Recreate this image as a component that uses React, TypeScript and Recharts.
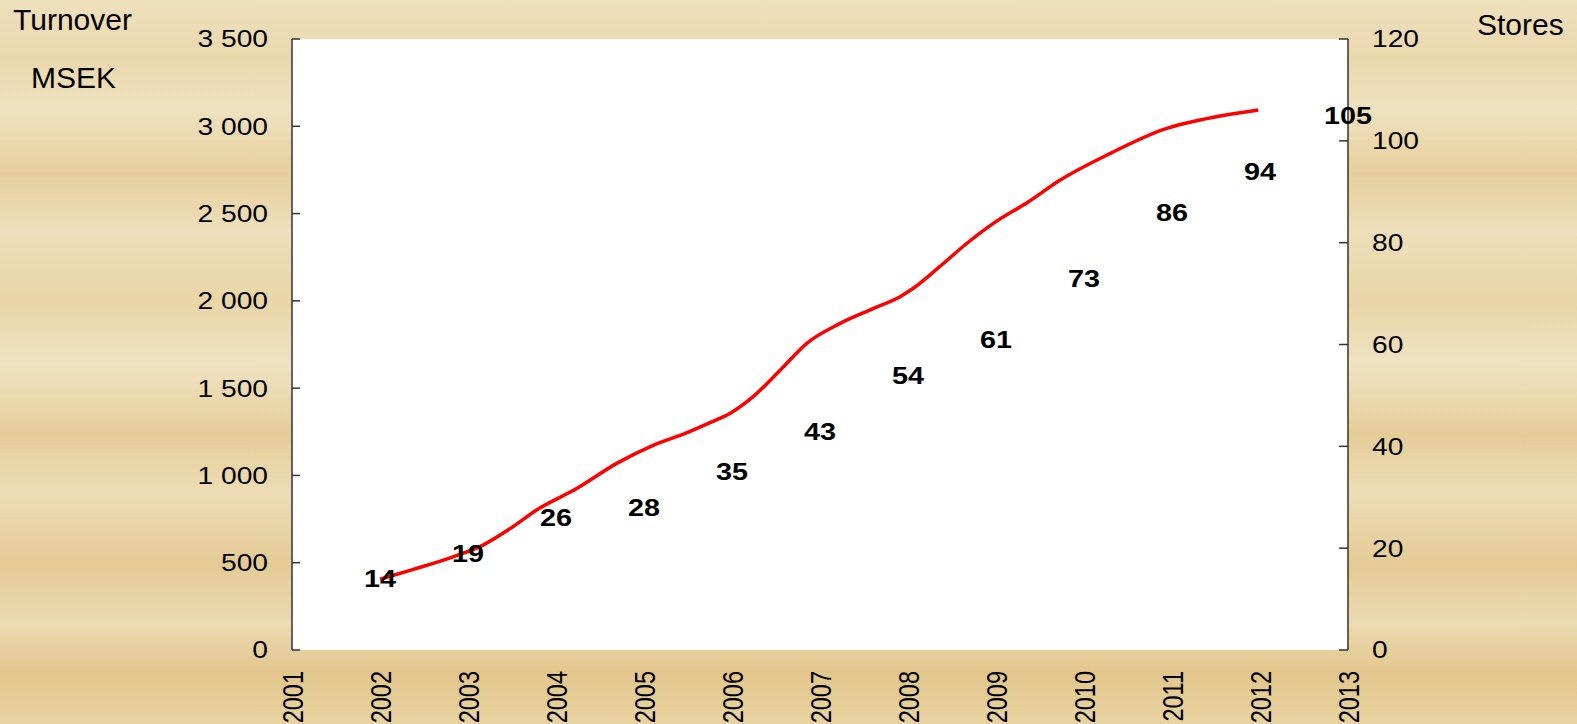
import React from "react";
import { ComposedChart, Line, XAxis, YAxis, CartesianGrid } from "recharts";

// Turnover (MSEK): [year position, value]
const turnoverYears = [2002.0, 2002.38, 2002.83, 2003.17, 2003.51, 2003.78, 2004.24, 2004.69, 2005.11, 2005.49, 2005.75, 2005.98, 2006.24, 2006.55, 2006.85, 2007.23, 2007.61, 2007.91, 2008.06, 2008.36, 2008.67, 2008.97, 2009.37, 2009.73, 2010.3, 2010.94, 2011.32, 2011.98];
const turnoverValues = [405, 462, 534, 601, 706, 802, 926, 1069, 1174, 1245, 1302, 1356, 1451, 1604, 1757, 1871, 1957, 2024, 2072, 2196, 2330, 2444, 2568, 2692, 2845, 2988, 3036, 3093];

// Number of stores per year
const storeYears = [2002, 2003, 2004, 2005, 2006, 2007, 2008, 2009, 2010, 2011, 2012, 2013];
const storeCounts = [14, 19, 26, 28, 35, 43, 54, 61, 73, 86, 94, 105];

const xTicks = [2001, 2002, 2003, 2004, 2005, 2006, 2007, 2008, 2009, 2010, 2011, 2012, 2013];
const leftTicks = [0, 500, 1000, 1500, 2000, 2500, 3000, 3500];
const rightTicks = [0, 20, 40, 60, 80, 100, 120];

const turnoverData = turnoverYears.map((x, i) => ({ x, v: turnoverValues[i] }));
const storeData = storeYears.map((x, i) => ({ x, s: storeCounts[i] }));

const FONT = "'Liberation Sans', Arial, sans-serif";
const SX = 1.2;

const fmt = (v: number) =>
  v >= 1000 ? `${Math.floor(v / 1000)} ${String(v % 1000).padStart(3, "0")}` : String(v);

const LeftTick = (p: any) => {
  const { x, y, payload } = p;
  return (
    <g>
      <line x1={x} x2={x + 8} y1={y} y2={y} stroke="#333" strokeWidth={1.5} />
      <g transform={`translate(${x - 24},${y}) scale(${SX},1)`}>
        <text x={0} y={0} dy="0.36em" textAnchor="end" fontSize={23.5} fill="#000" fontFamily={FONT}>
          {fmt(payload.value)}
        </text>
      </g>
    </g>
  );
};

const RightTick = (p: any) => {
  const { x, y, payload } = p;
  return (
    <g>
      <line x1={x} x2={x - 9} y1={y} y2={y} stroke="#333" strokeWidth={1.5} />
      <g transform={`translate(${x + 24},${y}) scale(${SX},1)`}>
        <text x={0} y={0} dy="0.36em" textAnchor="start" fontSize={23.5} fill="#000" fontFamily={FONT}>
          {payload.value}
        </text>
      </g>
    </g>
  );
};

const BottomTick = (p: any) => {
  const { x, y, payload } = p;
  return (
    <g transform={`translate(${x},${y + 21}) scale(1.28,1) rotate(-90)`}>
      <text x={0} y={0} dy="0.36em" textAnchor="end" fontSize={23.5} fill="#000" fontFamily={FONT}>
        {payload.value}
      </text>
    </g>
  );
};

const StoreLabel = (p: any) => {
  const { cx, cy, payload, index } = p;
  if (cx == null || cy == null) return <g key={`sl-${index}`} />;
  return (
    <g key={`sl-${index}`} transform={`translate(${cx},${cy}) scale(${SX},1)`}>
      <text x={0} y={0} dy="0.36em" textAnchor="middle" fontSize={24} fontWeight="bold" fill="#000" fontFamily={FONT}>
        {payload.s}
      </text>
    </g>
  );
};

const wood =
  "linear-gradient(180deg, #efe0bd 0%, #ead8ad 8%, #f0e2c0 15%, #e6cf9c 24%, #eedfba 32%, #e9d5a6 42%, #f0e3c3 50%, #e5cd98 60%, #eddcb5 68%, #e4cb95 78%, #ecdab2 86%, #e2c68c 93%, #e9d3a3 100%)";

export default function App() {
  return (
    <div
      style={{
        position: "absolute",
        left: 0,
        top: 0,
        width: 1577,
        height: 724,
        background: wood,
        overflow: "hidden",
      }}
    >
      <svg
        width={1577}
        height={724}
        style={{ position: "absolute", left: 0, top: 0, pointerEvents: "none" }}
      >
        <text x={13} y={30} fontSize={30} fontFamily={FONT} fill="#000">Turnover</text>
        <text x={31} y={88} fontSize={30} fontFamily={FONT} fill="#000">MSEK</text>
        <text x={1477} y={35} fontSize={30} fontFamily={FONT} fill="#000">Stores</text>
      </svg>
      <div style={{ position: "absolute", left: 0, top: 0 }}>
        <ComposedChart
          width={1577}
          height={724}
          margin={{ top: 39, right: 149, bottom: 0, left: 212 }}
        >
          <CartesianGrid fill="#ffffff" stroke="none" horizontal={false} vertical={false} />
          <XAxis
            type="number"
            dataKey="x"
            domain={[2001, 2013]}
            ticks={xTicks}
            interval={0}
            axisLine={false}
            tickLine={false}
            tickSize={0}
            tickMargin={0}
            height={74}
            tick={<BottomTick />}
          />
          <YAxis
            yAxisId="left"
            orientation="left"
            domain={[0, 3500]}
            ticks={leftTicks}
            interval={0}
            width={80}
            axisLine={{ stroke: "#333", strokeWidth: 1.5 }}
            tickLine={false}
            tickSize={0}
            tickMargin={0}
            tick={<LeftTick />}
          />
          <YAxis
            yAxisId="right"
            orientation="right"
            domain={[0, 120]}
            ticks={rightTicks}
            interval={0}
            width={80}
            axisLine={{ stroke: "#333", strokeWidth: 1.5 }}
            tickLine={false}
            tickSize={0}
            tickMargin={0}
            tick={<RightTick />}
          />
          <Line
            yAxisId="left"
            data={turnoverData}
            dataKey="v"
            type="monotone"
            stroke="#ff0000"
            strokeWidth={3.5}
            dot={false}
            activeDot={false}
            isAnimationActive={false}
          />
          <Line
            yAxisId="right"
            data={storeData}
            dataKey="s"
            stroke="none"
            dot={(props: any) => <StoreLabel {...props} />}
            activeDot={false}
            isAnimationActive={false}
          />
        </ComposedChart>
      </div>
    </div>
  );
}
